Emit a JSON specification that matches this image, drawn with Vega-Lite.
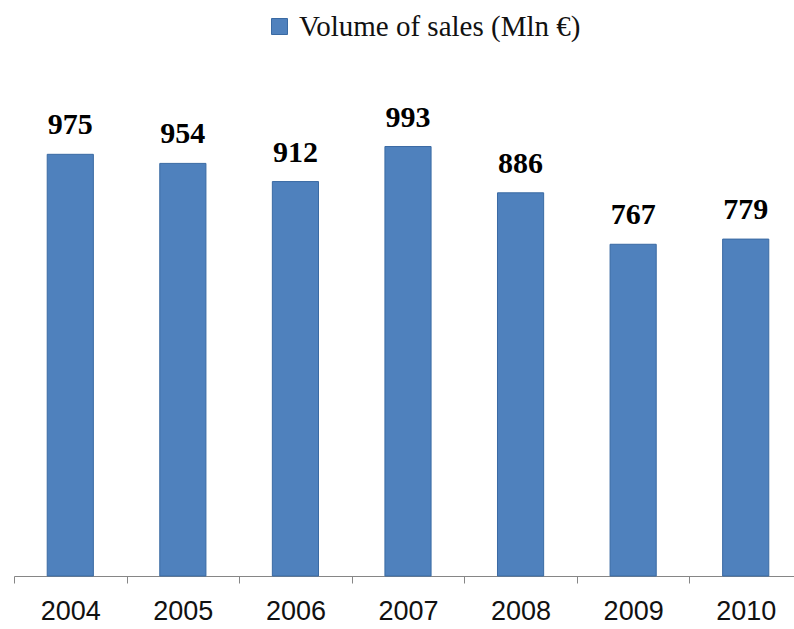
{
  "$schema": "https://vega.github.io/schema/vega-lite/v6.json",
  "width": 780,
  "height": 519,
  "autosize": {"type": "none"},
  "padding": {"left": 14, "top": 57, "right": 0, "bottom": 53},
  "background": "white",
  "data": {
    "values": [
      {"year": "2004", "sales": 975, "series": "Volume of sales (Mln €)"},
      {"year": "2005", "sales": 954, "series": "Volume of sales (Mln €)"},
      {"year": "2006", "sales": 912, "series": "Volume of sales (Mln €)"},
      {"year": "2007", "sales": 993, "series": "Volume of sales (Mln €)"},
      {"year": "2008", "sales": 886, "series": "Volume of sales (Mln €)"},
      {"year": "2009", "sales": 767, "series": "Volume of sales (Mln €)"},
      {"year": "2010", "sales": 779, "series": "Volume of sales (Mln €)"}
    ]
  },
  "encoding": {
    "x": {
      "field": "year",
      "type": "ordinal",
      "scale": {"paddingInner": 0, "paddingOuter": 0, "range": [0, 788]},
      "axis": {
        "title": null,
        "labelAngle": 0,
        "labelFont": "Liberation Sans",
        "labelFontSize": 27,
        "labelColor": "#111111",
        "labelPadding": 15,
        "tickBand": "extent",
        "tickSize": 7,
        "tickColor": "#868686",
        "domainColor": "#868686",
        "grid": false
      }
    },
    "y": {
      "field": "sales",
      "type": "quantitative",
      "scale": {"domain": [0, 1200]},
      "axis": null
    }
  },
  "layer": [
    {
      "mark": {"type": "bar", "width": {"band": 0.41}, "stroke": "#3a6aa3", "strokeWidth": 1},
      "encoding": {
        "color": {
          "field": "series",
          "type": "nominal",
          "scale": {"range": ["#4f81bd"]},
          "legend": {
            "title": null,
            "orient": "none",
            "legendX": 251,
            "legendY": -45,
            "direction": "horizontal",
            "padding": 0,
            "symbolType": "square",
            "symbolSize": 256,
            "symbolStrokeColor": "#3a6aa3",
            "symbolStrokeWidth": 1,
            "symbolOpacity": 1,
            "labelFont": "Liberation Serif",
            "labelFontSize": 29,
            "labelLimit": 0,
            "labelColor": "#111111",
            "labelOffset": 5
          }
        }
      }
    },
    {
      "mark": {
        "type": "text",
        "baseline": "alphabetic",
        "dy": -20,
        "font": "Liberation Serif",
        "fontSize": 30,
        "fontWeight": "bold",
        "color": "#000000"
      },
      "encoding": {"text": {"field": "sales", "type": "quantitative"}}
    }
  ],
  "config": {"view": {"stroke": null}}
}
